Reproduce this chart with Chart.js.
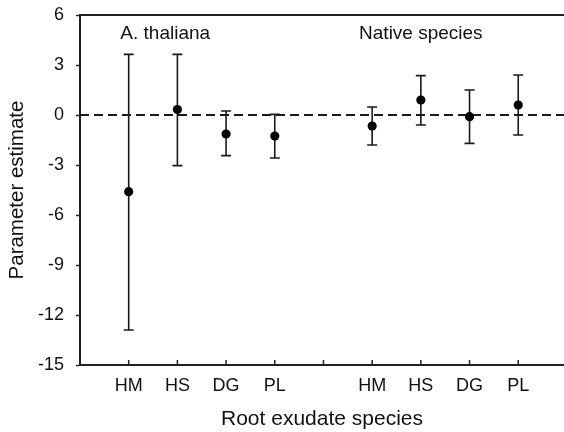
<!DOCTYPE html>
<html>
<head>
<meta charset="utf-8">
<script src="https://cdn.jsdelivr.net/npm/chart.js@4"></script>
<style>
  html, body { margin: 0; padding: 0; background: #fff; }
  #wrap { width: 564px; height: 432px; }
</style>
</head>
<body>
<div id="wrap"><canvas id="chart" width="564" height="432"></canvas></div>
<script>
// categories along the x axis (blank slot separates the two groups)
const categories = ["HM", "HS", "DG", "PL", "", "HM", "HS", "DG", "PL"];
const positions = [1, 2, 3, 4, 5, 6, 7, 8, 9];

// parameter estimates and their interval limits (blank slot = null)
const estimates = [-4.6, 0.33, -1.14, -1.26, null, -0.66, 0.9, -0.1, 0.6];
const lowerLimits = [-12.9, -3.04, -2.44, -2.58, null, -1.8, -0.6, -1.7, -1.2];
const upperLimits = [3.64, 3.64, 0.24, 0.04, null, 0.48, 2.36, 1.5, 2.4];

const yTicks = [-15, -12, -9, -6, -3, 0, 3, 6];
const referenceValue = 0;

const groupLabels = ["A. thaliana", "Native species"];
const groupLabelX = [1.75, 7.0];
const groupLabelY = 4.9;

const FONT = "'Liberation Sans', Arial, sans-serif";
const INK = "#1a1a1a";
const AXIS = "#222";

const decorations = {
  id: "decorations",
  beforeDatasetsDraw(chart) {
    const { ctx, chartArea, scales } = chart;
    const x = scales.x;
    const y = scales.y;
    ctx.save();

    // dashed reference line at zero
    const y0 = y.getPixelForValue(referenceValue);
    ctx.strokeStyle = INK;
    ctx.lineWidth = 2;
    ctx.setLineDash([9, 5]);
    ctx.beginPath();
    ctx.moveTo(chartArea.left, y0);
    ctx.lineTo(chartArea.right, y0);
    ctx.stroke();
    ctx.setLineDash([]);

    // error bars
    ctx.lineWidth = 1.6;
    positions.forEach((p, i) => {
      if (estimates[i] === null) return;
      const px = x.getPixelForValue(p);
      const lo = y.getPixelForValue(lowerLimits[i]);
      const hi = y.getPixelForValue(upperLimits[i]);
      ctx.beginPath();
      ctx.moveTo(px, lo);
      ctx.lineTo(px, hi);
      ctx.moveTo(px - 5, lo);
      ctx.lineTo(px + 5, lo);
      ctx.moveTo(px - 5, hi);
      ctx.lineTo(px + 5, hi);
      ctx.stroke();
    });
    ctx.restore();
  },
  afterDraw(chart) {
    const { ctx, chartArea, scales } = chart;
    const x = scales.x;
    const y = scales.y;
    ctx.save();

    // top frame line
    ctx.strokeStyle = AXIS;
    ctx.lineWidth = 2;
    ctx.beginPath();
    ctx.moveTo(chartArea.left, chartArea.top);
    ctx.lineTo(chartArea.right, chartArea.top);
    ctx.stroke();

    // inward ticks on the x axis
    ctx.lineWidth = 1.5;
    positions.forEach((p) => {
      const px = x.getPixelForValue(p);
      ctx.beginPath();
      ctx.moveTo(px, chartArea.bottom);
      ctx.lineTo(px, chartArea.bottom - 5);
      ctx.stroke();
    });

    // group labels
    ctx.fillStyle = "#111";
    ctx.font = "19px " + FONT;
    ctx.textAlign = "center";
    ctx.textBaseline = "middle";
    groupLabels.forEach((t, i) => {
      ctx.fillText(t, x.getPixelForValue(groupLabelX[i]), y.getPixelForValue(groupLabelY));
    });
    ctx.restore();
  },
};

new Chart(document.getElementById("chart"), {
  type: "scatter",
  data: {
    datasets: [
      {
        data: positions.map((p, i) => ({ x: p, y: estimates[i] })).filter((d) => d.y !== null),
        backgroundColor: "#000",
        borderWidth: 0,
        pointRadius: 4.6,
        pointHoverRadius: 4.6,
      },
    ],
  },
  options: {
    responsive: false,
    animation: false,
    layout: { autoPadding: false, padding: { top: 15, right: 0, left: 0, bottom: 0 } },
    plugins: {
      legend: { display: false },
      tooltip: { enabled: false },
    },
    scales: {
      x: {
        type: "linear",
        min: 0,
        max: 9.94,
        afterBuildTicks: (scale) => {
          scale.ticks = positions.map((v) => ({ value: v }));
        },
        afterFit: (scale) => {
          scale.height = 67;
          scale.paddingLeft = 0;
          scale.paddingRight = 0;
        },
        grid: { display: true, drawOnChartArea: false, drawTicks: false },
        border: { display: true, color: AXIS, width: 2 },
        ticks: {
          autoSkip: false,
          maxRotation: 0,
          padding: 10,
          color: "#111",
          font: { family: FONT, size: 18 },
          callback: (v) => categories[positions.indexOf(v)],
        },
        title: {
          display: true,
          text: "Root exudate species",
          color: "#111",
          font: { family: FONT, size: 21 },
          padding: { top: 0, bottom: 0 },
        },
      },
      y: {
        min: -15,
        max: 6,
        afterBuildTicks: (scale) => {
          scale.ticks = yTicks.map((v) => ({ value: v }));
        },
        afterFit: (scale) => {
          scale.width = 80;
          scale.paddingTop = 0;
          scale.paddingBottom = 0;
        },
        grid: { drawOnChartArea: false, drawTicks: true, tickLength: 4, color: AXIS, tickWidth: 1.5 },
        border: { display: true, color: AXIS, width: 2 },
        ticks: {
          padding: 12,
          color: "#111",
          font: { family: FONT, size: 18 },
        },
        title: {
          display: true,
          text: "Parameter estimate",
          color: "#111",
          font: { family: FONT, size: 20.5 },
          padding: { top: 5, bottom: 0 },
        },
      },
    },
  },
  plugins: [decorations],
});
</script>
</body>
</html>
